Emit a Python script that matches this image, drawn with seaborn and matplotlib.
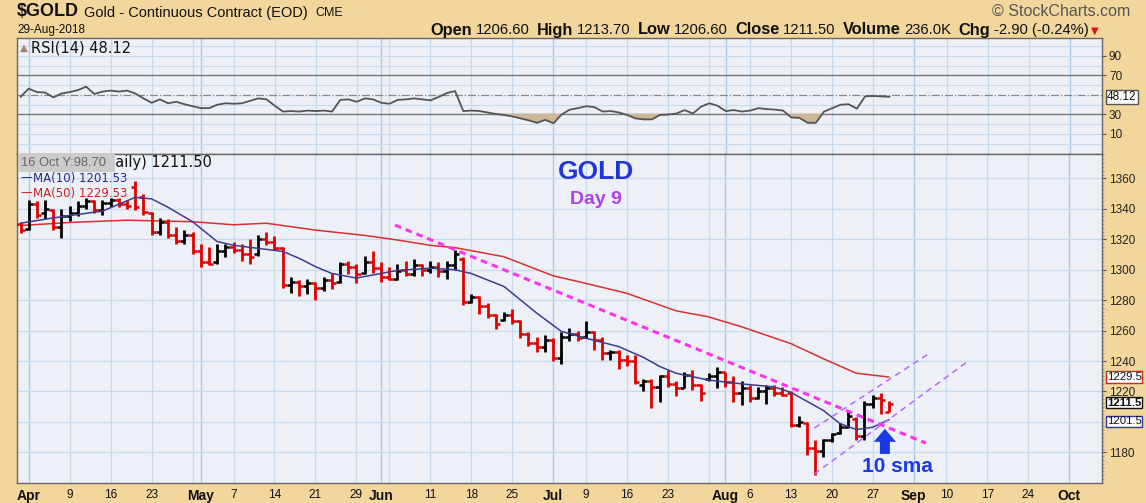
import numpy as np
import pandas as pd
import matplotlib
matplotlib.use('Agg')
import matplotlib.pyplot as plt
import matplotlib.transforms as mtrans
from matplotlib.patches import Rectangle
import seaborn as sns

sns.set_theme(style='white')
plt.rcParams['font.family'] = ['Liberation Sans', 'DejaVu Sans']

# ---- data ----
holidays = ['2018-03-30', '2018-05-28', '2018-07-04', '2018-09-03']

opens = [1330, 1327, 1343, 1337, 1339, 1328, 1335, 1337, 1342, 1345,
         1339, 1344, 1346, 1343, 1354, 1348, 1337, 1325, 1331, 1323,
         1319, 1323, 1312, 1305, 1305, 1312, 1315, 1313, 1310, 1310,
         1320, 1318, 1314, 1290, 1292, 1289, 1291, 1288, 1293, 1292,
         1304, 1302, 1298, 1305, 1301, 1295, 1294, 1300, 1297, 1303,
         1300, 1302, 1299, 1303, 1307, 1279, 1282, 1276, 1270, 1267,
         1270, 1266, 1258, 1252, 1249, 1254, 1242, 1256, 1258, 1256,
         1259, 1254, 1245, 1246, 1241, 1240, 1224, 1227, 1223, 1230,
         1225, 1222, 1231, 1224, 1228, 1230, 1233, 1226, 1219, 1222,
         1216, 1220, 1222, 1219, 1219, 1198, 1199, 1183, 1181, 1188,
         1193, 1197, 1202, 1191, 1212, 1216, 1206.6]
highs = [1331, 1346, 1345, 1346, 1340, 1340, 1342, 1345, 1347, 1346,
         1346, 1347, 1347, 1346, 1358, 1350, 1338, 1334, 1333, 1328,
         1326, 1325, 1317, 1315, 1317, 1317, 1318, 1317, 1320, 1323,
         1325, 1322, 1315, 1295, 1293, 1294, 1292, 1295, 1298, 1305,
         1306, 1304, 1309, 1312, 1305, 1302, 1304, 1306, 1307, 1304,
         1306, 1305, 1306, 1313, 1308, 1284, 1283, 1278, 1271, 1272,
         1274, 1267, 1259, 1256, 1257, 1255, 1259, 1262, 1260, 1266,
         1260, 1256, 1247, 1247, 1244, 1244, 1228, 1228, 1231, 1234,
         1227, 1233, 1234, 1225, 1232, 1236, 1233, 1230, 1227, 1224,
         1223, 1224, 1224, 1223, 1220, 1204, 1200, 1188, 1189, 1193,
         1199, 1208, 1203, 1214, 1218, 1219, 1213.7]
lows = [1324, 1326, 1334, 1333, 1326, 1321, 1332, 1335, 1340, 1337,
        1336, 1341, 1341, 1340, 1339, 1336, 1323, 1323, 1321, 1317,
        1317, 1310, 1302, 1303, 1304, 1308, 1311, 1306, 1304, 1309,
        1316, 1313, 1288, 1285, 1283, 1284, 1280, 1286, 1287, 1291,
        1297, 1291, 1297, 1298, 1292, 1293, 1293, 1296, 1296, 1296,
        1298, 1295, 1294, 1300, 1277, 1278, 1271, 1268, 1261, 1266,
        1264, 1255, 1250, 1246, 1246, 1240, 1238, 1253, 1253, 1255,
        1247, 1241, 1241, 1235, 1237, 1225, 1220, 1209, 1213, 1223,
        1217, 1222, 1221, 1214, 1227, 1222, 1223, 1213, 1211, 1213,
        1215, 1212, 1217, 1217, 1197, 1197, 1178, 1165, 1177, 1187,
        1192, 1196, 1188, 1188, 1209, 1205, 1206.6]
closes = [1326, 1343, 1336, 1340, 1328, 1335, 1337, 1342, 1345, 1339,
          1344, 1346, 1343, 1342, 1341, 1338, 1325, 1331, 1323, 1319,
          1323, 1312, 1305, 1304, 1312, 1315, 1313, 1310, 1308, 1320,
          1318, 1314, 1290, 1292, 1289, 1291, 1288, 1293, 1291, 1304,
          1302, 1297, 1305, 1301, 1295, 1294, 1299, 1297, 1303, 1300,
          1302, 1299, 1303, 1310, 1279, 1282, 1276, 1270, 1264, 1270,
          1266, 1258, 1252, 1249, 1254, 1242, 1256, 1258, 1255, 1259,
          1254, 1245, 1246, 1241, 1240, 1226, 1227, 1223, 1230, 1225,
          1222, 1231, 1224, 1219, 1230, 1233, 1226, 1219, 1222, 1216,
          1220, 1222, 1219, 1218, 1198, 1200, 1183, 1181, 1188, 1192,
          1197, 1204, 1191, 1212, 1216, 1214.4, 1211.5]

rsi = [48, 56.5, 53, 52.5, 47.5, 51.5, 53, 55, 58.5, 51, 53.5,
       54.5, 53.5, 54.5, 51.5, 46.5, 42, 45.5, 41.5, 43, 40.5,
       38.5, 36.5, 36.5, 40, 41.5, 41, 41.5, 44, 46.5, 45.5,
       39, 33, 33.5, 33, 34, 33.5, 34, 33, 45, 45.5,
       43, 46.5, 45.5, 42, 41, 45, 45.5, 46.5, 45.5, 44.5,
       48, 52, 54, 33.5, 34, 33.5, 32, 30.5, 29.5, 28,
       26, 24, 21.5, 24.5, 21, 30, 35, 36.5, 38.5, 37.5,
       33, 33.5, 32, 29.5, 26, 25, 25, 29.5, 30, 31,
       34.5, 31, 38, 41.5, 39, 33.5, 34.5, 33, 34, 36.5,
       35.5, 35, 34, 27, 26.5, 21.5, 21.5, 33, 36.5, 40,
       40.5, 36, 48.5, 49, 48.5, 48.12]

# moving averages read at selected bars (bar number counted from 29-Mar)
ma10_bar = [0, 4, 10, 14, 16, 18, 21, 24, 26, 29, 32, 34, 36, 38, 41, 44, 46,
            50, 53, 55, 59, 63, 66, 69, 73, 76, 78, 80, 84, 88, 92, 94, 98,
            100, 102, 104, 106]
ma10_val = [1330.5, 1334, 1338.5, 1347.5, 1346.5, 1341, 1331.5, 1318.5, 1316,
            1314, 1312, 1307.5, 1302, 1297.5, 1294.5, 1297.5, 1299.5, 1301,
            1300, 1297.5, 1289, 1271.5, 1259.5, 1255, 1249.5, 1242.5, 1236.5,
            1232, 1227.5, 1225, 1223, 1219.5, 1207.5, 1199, 1195, 1196.5, 1201.5]
ma50_bar = [0, 6, 13, 21, 26, 30, 36, 42, 46, 50, 53, 59, 65, 69, 74, 80, 84,
            88, 94, 98, 102, 106]
ma50_val = [1329, 1331, 1332.5, 1331.5, 1329.5, 1330.5, 1326, 1322.5, 1319.5,
            1316, 1314.5, 1308.5, 1296, 1291, 1284.5, 1273, 1269, 1262.5,
            1251.5, 1241.5, 1232, 1229.5]

# hand drawn trend lines (bar number, price)
trend_bar = [45.7, 110.5]
trend_px = [1329.3, 1186.1]
chan_up_bar = [96.9, 110.8]
chan_up_px = [1196, 1244.6]
chan_lo_bar = [96.9, 115.5]
chan_lo_px = [1165.8, 1239.3]
arrow_bar = 105.5
arrow_px = [1179.0, 1195.5]

price_ticks = [1180, 1220, 1240, 1260, 1280, 1300, 1320, 1340, 1360]
rsi_ticks = [10, 30, 70, 90]

tick_dates = ['2018-04-02', '2018-04-09', '2018-04-16', '2018-04-23',
              '2018-05-01', '2018-05-07', '2018-05-14', '2018-05-21',
              '2018-05-29', '2018-06-01', '2018-06-11', '2018-06-18',
              '2018-06-25', '2018-07-02', '2018-07-09', '2018-07-16',
              '2018-07-23', '2018-08-01', '2018-08-06', '2018-08-13',
              '2018-08-20', '2018-08-27', '2018-09-04', '2018-09-10',
              '2018-09-17', '2018-09-24', '2018-10-01']
tick_labels = ['Apr', '9', '16', '23', 'May', '7', '14', '21', '29', 'Jun',
               '11', '18', '25', 'Jul', '9', '16', '23', 'Aug', '6', '13',
               '20', '27', 'Sep', '10', '17', '24', 'Oct']

# ---- colours ----
TAN = '#f2d69c'
PANEL = '#eef0f7'
GRID = '#c6dcee'
GRID_M = '#a9cbe6'
RED = '#e00000'

W, H = 1146, 503
fig = plt.figure(figsize=(W / 100, H / 100), dpi=100, facecolor=TAN)


def fx(x):
    return x / W


def fy(y):
    return 1 - y / H


L, R = 16.5, 1102
RT, RB, PB = 38.5, 153.5, 483
ax_rsi = fig.add_axes([fx(L), fy(RB), (R - L) / W, (RB - RT) / H])
ax = fig.add_axes([fx(L), fy(PB), (R - L) / W, (PB - RB) / H])

days = pd.date_range('2018-03-29', '2018-10-05',
                     freq=pd.offsets.CustomBusinessDay(holidays=holidays))
pos = {d: i for i, d in enumerate(days)}
n = len(closes)
k = np.arange(n)

xlim = (-0.49, 131.9)
for a in (ax, ax_rsi):
    a.set_facecolor(PANEL)
    a.set_xlim(*xlim)
    for s in a.spines.values():
        s.set_color('#666666')
        s.set_linewidth(1.0)

# vertical grid: week starts and month starts
ser = days.to_series()
wk = ser.dt.isocalendar().week.values
mo = ser.dt.month.values
for i in range(1, len(days)):
    if mo[i] != mo[i - 1]:
        for a in (ax, ax_rsi):
            a.axvline(i, color=GRID_M, lw=1.0, zorder=0)
    elif wk[i] != wk[i - 1]:
        for a in (ax, ax_rsi):
            a.axvline(i, color=GRID, lw=0.9, zorder=0)

# ---- price panel ----
ax.set_ylim(1159.9, 1376.3)
for p in range(1180, 1361, 20):
    ax.axhline(p, color=GRID, lw=0.9, zorder=0)

opens_a, highs_a, lows_a, closes_a = map(np.array, (opens, highs, lows, closes))
prev = np.r_[opens_a[0], closes_a[:-1]]
cols = np.where(closes_a > prev, 'black', RED)
ax.vlines(k, lows_a, highs_a, colors=cols, lw=2.0, zorder=3)
ax.hlines(opens_a, k - 0.5, k, colors=cols, lw=1.8, zorder=3)
ax.hlines(closes_a, k, k + 0.5, colors=cols, lw=1.8, zorder=3)

sns.lineplot(x=ma50_bar, y=ma50_val, ax=ax, color='#d83030', lw=1.1,
             estimator=None, legend=False, zorder=2)
sns.lineplot(x=ma10_bar, y=ma10_val, ax=ax, color='#3c3c92', lw=1.1,
             estimator=None, legend=False, zorder=4)

ax.plot(trend_bar, trend_px, color='#ff33ee', lw=2.2, ls=(0, (2.2, 1.6)),
        zorder=5)
ax.plot(chan_up_bar, chan_up_px, color='#b56aff', lw=1.1, ls=(0, (4, 3)),
        zorder=5)
ax.plot(chan_lo_bar, chan_lo_px, color='#b56aff', lw=1.1, ls=(0, (4, 3)),
        zorder=5)
ax.annotate('', xy=(arrow_bar, arrow_px[1]), xytext=(arrow_bar, arrow_px[0]),
            arrowprops=dict(arrowstyle='simple,head_length=0.47,head_width=0.8,'
                                       'tail_width=0.36',
                            mutation_scale=20, color='#1a3ae8', lw=0,
                            shrinkA=0, shrinkB=0),
            zorder=6)

ax.text((596 - L) / (R - L), 1 - (172 - RB) / (PB - RB), 'GOLD',
        transform=ax.transAxes, ha='center', va='center', fontsize=19,
        fontweight='bold', color='#2036dc')
ax.text((596 - L) / (R - L), 1 - (199 - RB) / (PB - RB), 'Day 9',
        transform=ax.transAxes, ha='center', va='center', fontsize=14,
        fontweight='bold', color='#b040ee')
ax.text((897 - L) / (R - L), 1 - (466 - RB) / (PB - RB), '10 sma',
        transform=ax.transAxes, ha='center', va='center', fontsize=15,
        fontweight='bold', color='#1a3ae8')

# x axis
tick_pos = [pos[pd.Timestamp(d)] for d in tick_dates]
ax.set_xticks(tick_pos)
ax.set_xticklabels(tick_labels)
for lab in ax.get_xticklabels():
    if lab.get_text().isalpha():
        lab.set_fontweight('bold')
        lab.set_fontsize(10)
    else:
        lab.set_fontsize(8.5)
    lab.set_color('#111111')
ax.set_xticks(np.arange(0, len(days)), minor=True)
ax.tick_params(axis='x', which='major', length=0, pad=4)
ax.tick_params(axis='x', which='minor', length=2.5, width=0.6,
               color='#777777', direction='out')

# right price axis (1200 sits under the value tags)
ax.yaxis.tick_right()
ax.set_yticks(price_ticks)
ax.set_yticks(np.arange(1162.5, 1376, 2.5), minor=True)
ax.tick_params(axis='y', which='major', direction='out', length=3, width=0.8,
               color='#555555', pad=2, labelsize=8.5, labelcolor='#222222')
ax.tick_params(axis='y', which='minor', direction='out', length=1.5,
               width=0.5, color='#888888')

# last-value tags on the right edge
blend = mtrans.blended_transform_factory(ax.transAxes, ax.transData)
for val, txt, ec, fw in [(1229.53, '1229.5', '#dd2222', 'normal'),
                         (1212.6, '1211.5', '#111111', 'bold'),
                         (1200.4, '1201.5', '#3333aa', 'normal')]:
    ax.text(1.0 + 5 / (R - L), val, txt, transform=blend, ha='left',
            va='center', fontsize=8.2, fontweight=fw, color='#111111',
            bbox=dict(boxstyle='square,pad=0.05', fc='white', ec=ec, lw=1.0),
            clip_on=False)

# legend text in price panel
ren = fig.canvas.get_renderer()
head = fig.text(0, 0, '$GOLD (D', fontsize=10.5, family='DejaVu Sans')
wpx = head.get_window_extent(renderer=ren).width
head.remove()
fig.text(fx(115 - wpx), fy(163), '$GOLD (Daily) 1211.50', fontsize=10.5,
         family='DejaVu Sans', color='#111111', va='center', ha='left')
fig.patches.append(Rectangle((fx(17.5), fy(172)), (115 - 17.5) / W, 18.5 / H,
                             transform=fig.transFigure, fc='#cbcbcb',
                             ec='none', zorder=9))
fig.text(fx(21), fy(163), '16 Oct Y:98.70', fontsize=9.3, color='#666666',
         va='center', ha='left', zorder=10)
fig.text(fx(20), fy(178), '\u2014', fontsize=8.5, color='#2a2a8a',
         va='center', ha='left', family='DejaVu Sans')
fig.text(fx(33), fy(178), 'MA(10) 1201.53', fontsize=8.5, color='#2a2a8a',
         va='center', ha='left', family='DejaVu Sans')
fig.text(fx(20), fy(193), '\u2014', fontsize=8.5, color='#cc2222',
         va='center', ha='left', family='DejaVu Sans')
fig.text(fx(33), fy(193), 'MA(50) 1229.53', fontsize=8.5, color='#cc2222',
         va='center', ha='left', family='DejaVu Sans')

# ---- RSI panel ----
ax_rsi.set_ylim(-10.0, 107.9)
for v in range(0, 101, 10):
    if v not in (30, 50, 70):
        ax_rsi.axhline(v, color=GRID, lw=0.8, zorder=0)
ax_rsi.axhline(70, color='#777777', lw=1.0, zorder=1)
ax_rsi.axhline(30, color='#777777', lw=1.0, zorder=1)
ax_rsi.axhline(50, color='#888888', lw=0.9, ls='-.', zorder=1)
rsi_a = np.array(rsi)
ax_rsi.fill_between(k, rsi_a, 30, where=rsi_a < 30, interpolate=True,
                    color='#cdb797', zorder=2)
sns.lineplot(x=k, y=rsi_a, ax=ax_rsi, color='#555555', lw=1.3,
             estimator=None, legend=False, zorder=3)
ax_rsi.set_xticks(tick_pos)
ax_rsi.set_xticklabels([])
ax_rsi.tick_params(axis='x', length=0)
ax_rsi.yaxis.tick_right()
ax_rsi.set_yticks(rsi_ticks)
ax_rsi.tick_params(axis='y', direction='out', length=3, width=0.8,
                   color='#555555', pad=2, labelsize=8.5, labelcolor='#222222')
ax_rsi.set_xlabel('')
ax_rsi.set_ylabel('')
ax.set_xlabel('')
ax.set_ylabel('')
blend_r = mtrans.blended_transform_factory(ax_rsi.transAxes, ax_rsi.transData)
ax_rsi.text(1.0 + 5 / (R - L), 48.12, '48.12', transform=blend_r, ha='left',
            va='center', fontsize=8.5, color='#111111', clip_on=False,
            bbox=dict(boxstyle='square,pad=0.1', fc='white', ec='#555555',
                      lw=1.0))
fig.text(fx(20), fy(48), '\u25b2', fontsize=7.5, color='#a08870',
         va='center', ha='left', family='DejaVu Sans')
fig.text(fx(31), fy(48), 'RSI(14) 48.12', fontsize=10.5, color='#111111',
         va='center', ha='left', family='DejaVu Sans')

# ---- header ----
fig.text(fx(17), fy(12), '$GOLD', fontsize=13, fontweight='bold',
         color='#111111', va='center', ha='left')
fig.text(fx(84), fy(13), 'Gold - Continuous Contract (EOD)', fontsize=10.5,
         color='#111111', va='center', ha='left')
fig.text(fx(315), fy(13), 'CME', fontsize=9, color='#111111', va='center',
         ha='left')
fig.text(fx(17), fy(30), '29-Aug-2018', fontsize=8.5, color='#111111',
         va='center', ha='left')
fig.text(fx(1130), fy(11), '\u00a9 StockCharts.com', fontsize=11.5,
         color='#555555', va='center', ha='right')

runs = [('Open', True), ('1206.60', False), ('High', True), ('1213.70', False),
        ('Low', True), ('1206.60', False), ('Close', True), ('1211.50', False),
        ('Volume', True), ('236.0K', False), ('Chg', True),
        ('-2.90 (-0.24%)', False)]
x = 430.0
for txt, bold in runs:
    t = fig.text(fx(x), fy(30), txt, fontsize=11.8 if bold else 10.6,
                 fontweight='bold' if bold else 'normal', color='#111111',
                 va='center', ha='left')
    x += t.get_window_extent(renderer=ren).width + (4 if bold else 7)
fig.text(fx(x - 5), fy(31), '\u25bc', fontsize=7, color='#dd1111',
         va='center', ha='left', family='DejaVu Sans')

fig.savefig('out.png', dpi=100, facecolor=TAN)
